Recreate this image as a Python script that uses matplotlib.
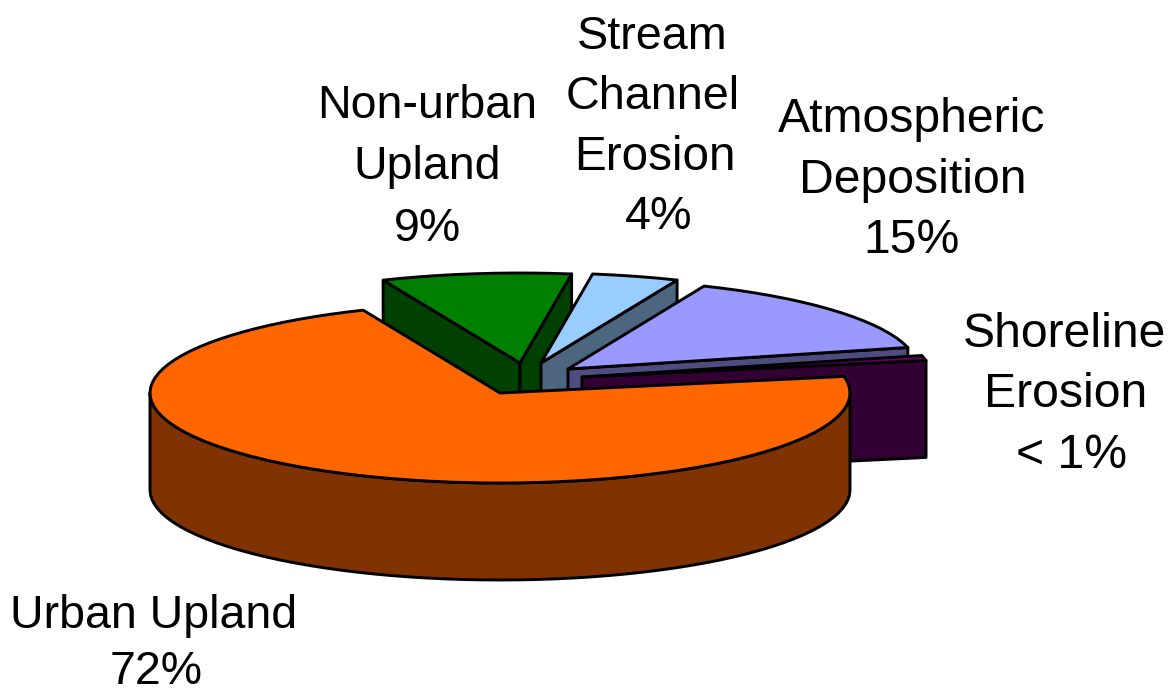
import numpy as np
import matplotlib
matplotlib.use("Agg")
import matplotlib.pyplot as plt
from matplotlib.patches import Polygon

plt.rcParams['font.family'] = ['Liberation Sans', 'DejaVu Sans']

# shares, <1% estimated from the width of the sliver
categories = ["Urban Upland", "Non-urban Upland", "Stream Channel Erosion",
              "Atmospheric Deposition", "Shoreline Erosion"]
shares = [71.55, 8.75, 4.0, 14.8, 0.9]
top_colors = ["#FF6600", "#008000", "#99CCFF", "#9999FF", "#660066"]
side_colors = ["#803300", "#004000", "#4D6680", "#4D4D80", "#330033"]

# how far each slice is pulled out of the pie, pixels
explode_x = [0, 20, 41, 68, 82]
explode_y = [0, -30, -30, -24, -16]

# text lines: (string, x centre, y centre, size)
label_lines = [
    ("Urban Upland", 154, 616, 33.5), ("72%", 156, 672, 33.5),
    ("Non-urban", 427, 106, 33.5), ("Upland", 427, 167, 33.5), ("9%", 427, 229, 33.5),
    ("Stream", 652, 37, 33.7), ("Channel", 653, 97, 33.7), ("Erosion", 655, 157, 34.3), ("4%", 659, 217, 33.7),
    ("Atmospheric", 912, 119, 34.7), ("Deposition", 913, 180, 34.7), ("15%", 912, 240, 34.7),
    ("Shoreline", 1064, 334, 34.7), ("Erosion", 1066, 394, 34.7), ("< 1%", 1072, 455, 34.7),
]

CX, CY = 500, 393
RX, RY = 350, 90
DEPTH = 97
START_ANGLE = 10.6
LW = 2.1

fig = plt.figure(figsize=(11.68, 6.91), dpi=100)
ax = fig.add_axes([0, 0, 1, 1])
ax.set_xlim(0, 1168)
ax.set_ylim(691, 0)
ax.axis('off')


def rim(a_from, a_to, ox, oy):
    steps = max(2, int(abs(a_from - a_to) / 3) + 1)
    t = np.radians(np.linspace(a_from, a_to, steps))
    return np.column_stack([CX + ox + RX * np.cos(t), CY + oy - RY * np.sin(t)])


def draw(points, color, z):
    ax.add_patch(Polygon(points, closed=True, facecolor=color, edgecolor='black',
                         linewidth=LW, joinstyle='round', zorder=z))


angles = START_ANGLE - np.cumsum([0] + shares) * 3.6
draw_order = [1, 2, 3, 4, 0]

for z, i in enumerate(draw_order):
    a1, a2 = angles[i], angles[i + 1]
    if i > 0:
        a1, a2 = a1 + 360, a2 + 360
    ox, oy = explode_x[i], explode_y[i]
    apex = np.array([CX + ox, CY + oy])
    down = np.array([0, DEPTH])
    base = z * 10

    # outer wall, only the front half of the ellipse shows
    hi, lo = min(a1, 0), max(a2, -180)
    if hi > lo:
        arc = rim(hi, lo, ox, oy)
        draw(np.vstack([arc, (arc + down)[::-1]]), side_colors[i], base)

    # cut faces that turn towards the viewer
    if np.cos(np.radians(a1)) < 0:
        p = rim(a1, a1, ox, oy)[0]
        draw([apex, p, p + down, apex + down], side_colors[i], base + 1)
    if np.cos(np.radians(a2)) > 0:
        p = rim(a2, a2, ox, oy)[0]
        draw([apex, p, p + down, apex + down], side_colors[i], base + 1)

    # top of the slice
    draw(np.vstack([[apex], rim(a1, a2, ox, oy)]), top_colors[i], base + 2)

for text, x, y, size in label_lines:
    ax.text(x, y, text, fontsize=size, color='black', ha='center', va='center', zorder=100)

fig.savefig("out.png", dpi=100, facecolor='white')
